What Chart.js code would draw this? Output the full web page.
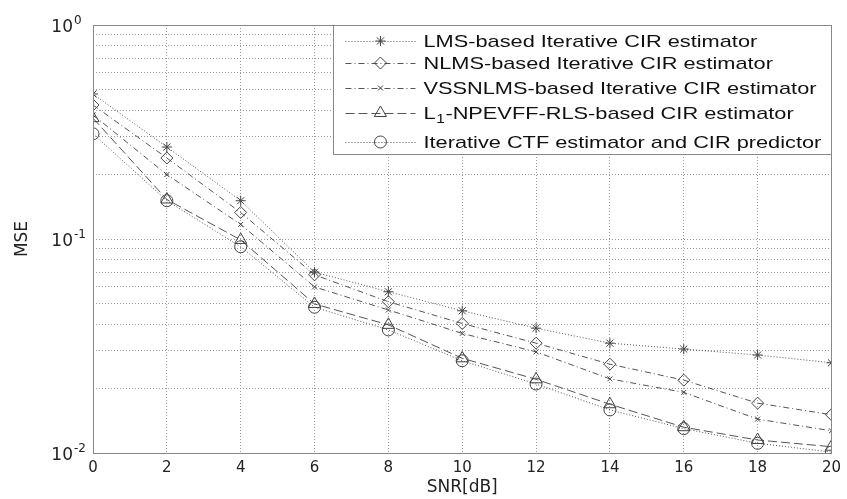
<!DOCTYPE html>
<html>
<head>
<meta charset="utf-8">
<script src="https://cdn.jsdelivr.net/npm/chart.js@4.4.1/dist/chart.umd.min.js"></script>
<style>
  html, body { margin: 0; padding: 0; background: #fff; }
</style>
</head>
<body>
<canvas id="myChart" width="847" height="499"></canvas>
<script>
const snr = [0, 2, 4, 6, 8, 10, 12, 14, 16, 18, 20];
const lms = [0.476, 0.269, 0.151, 0.070, 0.0567, 0.0462, 0.0383, 0.0326, 0.0306, 0.0287, 0.0264];
const nlms = [0.423, 0.239, 0.133, 0.068, 0.0509, 0.0403, 0.0326, 0.026, 0.0219, 0.0171, 0.0151];
const vssnlms = [0.38, 0.20, 0.117, 0.0597, 0.0466, 0.0362, 0.0297, 0.0222, 0.0192, 0.0144, 0.0127];
const l1rls = [0.367, 0.153, 0.099, 0.0497, 0.0397, 0.0277, 0.0221, 0.0169, 0.0132, 0.0115, 0.0107];
const ctf = [0.31, 0.151, 0.092, 0.048, 0.0376, 0.027, 0.021, 0.0159, 0.013, 0.0111, 0.0101];

const seriesNames = [
  "LMS-based Iterative CIR estimator",
  "NLMS-based Iterative CIR estimator",
  "VSSNLMS-based Iterative CIR estimator",
  "L1-NPEVFF-RLS-based CIR estimator",
  "Iterative CTF estimator and CIR predictor",
];
const xTicks = [0, 2, 4, 6, 8, 10, 12, 14, 16, 18, 20];
const yDecades = [0.01, 0.1, 1];
const yExponents = ["-2", "-1", "0"];

// minor ticks 1..9 in each decade, so the dotted grid matches
const yTickValues = [];
for (let i = 0; i < yDecades.length - 1; i++) {
  for (let m = 1; m <= 9; m++) yTickValues.push(yDecades[i] * m);
}
yTickValues.push(yDecades[yDecades.length - 1]);

const lineColor = "#555";
const styles = [
  { dash: [1, 2], point: "star", radius: 5 },
  { dash: [6, 3, 1, 3], point: "rectRot", radius: 6 },
  { dash: [6, 3, 1, 3], point: "crossRot", radius: 3.5 },
  { dash: [9, 4], point: "triangle", radius: 7 },
  { dash: [1, 2], point: "circle", radius: 6 },
];
const allSeries = [lms, nlms, vssnlms, l1rls, ctf];

const datasets = allSeries.map((values, i) => ({
  label: seriesNames[i],
  data: values.map((v, j) => ({ x: snr[j], y: v })),
  borderColor: lineColor,
  borderWidth: 1,
  borderDash: styles[i].dash,
  pointStyle: styles[i].point,
  pointRadius: styles[i].radius,
  pointBorderColor: "#444",
  pointBackgroundColor: "rgba(0,0,0,0)",
  pointBorderWidth: 1,
  tension: 0,
  fill: false,
}));

const boxPlugin = {
  id: "matlabBox",
  afterDraw(chart) {
    const { ctx, chartArea: a, scales } = chart;
    ctx.save();
    ctx.setLineDash([]);
    ctx.strokeStyle = "#888";
    ctx.lineWidth = 1;
    ctx.strokeRect(Math.round(a.left) + 0.5, Math.round(a.top) + 0.5,
      Math.round(a.right - a.left), Math.round(a.bottom - a.top));

    // y tick labels 10^k
    ctx.fillStyle = "#222";
    yDecades.forEach((v, i) => {
      const py = scales.y.getPixelForValue(v);
      ctx.font = '17px "DejaVu Sans"';
      ctx.textAlign = "right";
      ctx.textBaseline = "alphabetic";
      ctx.fillText("10", a.left - 20, py + 6.5);
      ctx.font = '12px "DejaVu Sans"';
      ctx.textAlign = "left";
      ctx.fillText(yExponents[i], a.left - 19, py - 1);
    });

    // legend box in the top right corner
    const lx = a.right - 498;
    const ly = a.top;
    ctx.fillStyle = "#fff";
    ctx.fillRect(lx, ly, 498, 129);
    ctx.strokeStyle = "#888";
    ctx.strokeRect(Math.round(lx) + 0.5, Math.round(ly) + 0.5, 498, 129);

    const rowY = [16, 38, 63, 88, 117];
    const sx = 1.28;
    seriesNames.forEach((name, i) => {
      const cy = ly + rowY[i];
      ctx.strokeStyle = lineColor;
      ctx.lineWidth = 1;
      ctx.setLineDash(styles[i].dash);
      ctx.beginPath();
      ctx.moveTo(lx + 12, cy + 0.5);
      ctx.lineTo(lx + 82, cy + 0.5);
      ctx.stroke();
      ctx.setLineDash([]);
      ctx.strokeStyle = "#444";
      ctx.fillStyle = "rgba(0,0,0,0)";
      Chart.helpers.drawPoint(ctx, {
        pointStyle: styles[i].point,
        radius: styles[i].radius,
        rotation: 0,
        borderWidth: 1,
      }, lx + 47, cy);

      ctx.fillStyle = "#111";
      ctx.textAlign = "left";
      ctx.textBaseline = "alphabetic";
      const tx = lx + 90;
      ctx.save();
      ctx.translate(tx, cy + 6);
      ctx.scale(sx, 1);
      ctx.font = '17px "Liberation Sans", Arial';
      if (i === 3) {
        const wL = ctx.measureText("L").width;
        ctx.fillText("L", 0, 0);
        ctx.font = '12px "Liberation Sans", Arial';
        ctx.fillText("1", wL + 0.5, 4);
        const w1 = ctx.measureText("1").width;
        ctx.font = '17px "Liberation Sans", Arial';
        ctx.fillText(name.slice(2), wL + w1 + 1, 0);
      } else {
        ctx.fillText(name, 0, 0);
      }
      ctx.restore();
    });
    ctx.restore();
  },
};

new Chart(document.getElementById("myChart"), {
  type: "line",
  data: { datasets },
  options: {
    responsive: false,
    animation: false,
    devicePixelRatio: 1,
    layout: { padding: { top: 25, right: 14, left: 0, bottom: 0 } },
    plugins: {
      legend: { display: false },
      tooltip: { enabled: false },
    },
    scales: {
      x: {
        type: "linear",
        min: 0,
        max: 20,
        afterBuildTicks: (scale) => {
          scale.ticks = xTicks.map((v) => ({ value: v }));
        },
        afterFit: (scale) => {
          scale.height = 46;
        },
        ticks: {
          color: "#222",
          padding: 6,
          font: { family: "DejaVu Sans", size: 15 },
        },
        grid: { color: "#999", drawTicks: false },
        border: { display: false, dash: [1, 2] },
        title: {
          display: true,
          text: "SNR[dB]",
          color: "#222",
          font: { family: "DejaVu Sans", size: 17 },
          padding: { top: 0, bottom: 1 },
        },
      },
      y: {
        type: "logarithmic",
        min: 0.01,
        max: 1,
        afterBuildTicks: (scale) => {
          scale.ticks = yTickValues.map((v) => ({ value: v }));
        },
        afterFit: (scale) => {
          scale.width = 93;
        },
        ticks: { display: false },
        grid: { color: "#999", drawTicks: false },
        border: { display: false, dash: [1, 2] },
        title: {
          display: true,
          text: "MSE",
          color: "#222",
          font: { family: "DejaVu Sans", size: 17 },
          padding: { top: 12, bottom: 0 },
        },
      },
    },
  },
  plugins: [boxPlugin],
});
</script>
</body>
</html>
